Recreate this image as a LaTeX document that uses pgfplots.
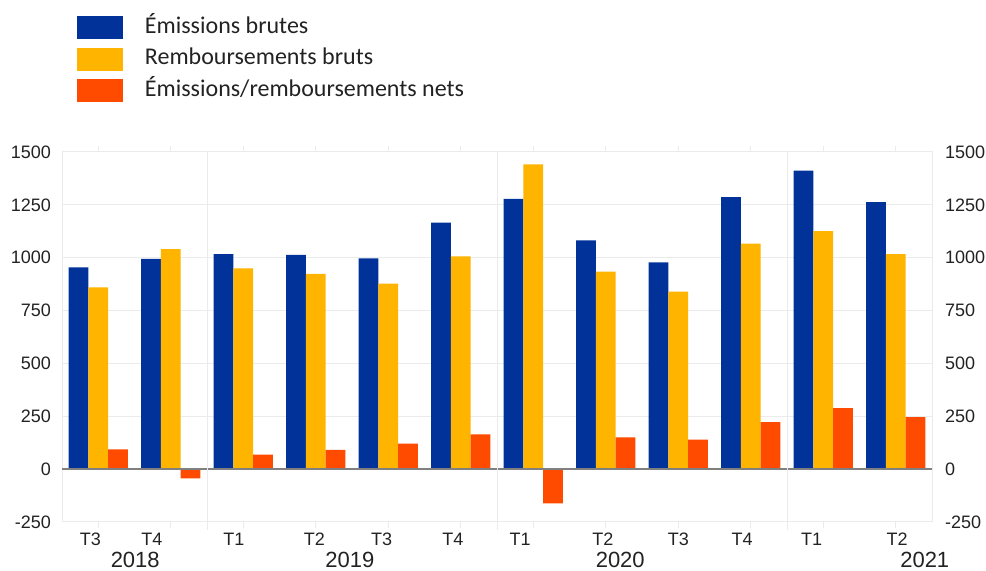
\documentclass[border=0pt]{standalone}
\usepackage{pgfplots}
\usepackage{pgfplotstable}
\pgfplotsset{compat=1.18}
\usepackage{fontspec}
\setmainfont{Liberation Sans}
\newfontfamily\carlito{Carlito}
\definecolor{ecbblue}{HTML}{003299}
\definecolor{ecbyellow}{HTML}{FFB400}
\definecolor{ecbred}{HTML}{FF4B00}
\definecolor{gridgray}{HTML}{EBEBEB}
\definecolor{zerogray}{HTML}{808080}
\definecolor{txt}{HTML}{222222}

\pgfplotstableread{
x em rb net
0 954 860 93
1 995 1041 -44
2 1017 950 69
3 1013 924 91
4 997 877 121
5 1166 1006 164
6 1278 1442 -162
7 1082 934 150
8 978 839 140
9 1287 1066 222
10 1412 1126 289
11 1263 1017 246
}\datatable

\begin{document}
\begin{tikzpicture}
\path[use as bounding box] (0,0) rectangle (493pt,285.5pt);
\begin{axis}[
  at={(31pt,24.5pt)}, anchor=south west,
  scale only axis, width=435pt, height=185pt,
  xmin=-0.5, xmax=11.5, ymin=-250, ymax=1500,
  ytick={-250,0,250,500,750,1000,1250,1500},
  /pgf/number format/assume math mode=true,
  /pgf/number format/1000 sep={},
  ybar=0pt, bar width=9.85pt,
  axis line style={gridgray, line width=0.5pt},
  ymajorgrids, grid style={gridgray, line width=0.5pt},
  xtick={0,...,11}, xticklabels={},
  tick align=outside, major tick length=3pt,
  xtick style={gridgray, line width=0.5pt},
  ytick style={draw=none},
  tick label style={font=\fontsize{9}{11}\selectfont, text=txt},
  yticklabel style={xshift=1pt},
  extra x ticks={-0.11,0.74,1.87,2.98,3.91,4.89,5.82,6.96,8.0,8.88,9.84,11.02},
  extra x tick labels={T3,T4,T1,T2,T3,T4,T1,T2,T3,T4,T1,T2},
  extra x tick style={major tick length=0pt, tick style={draw=none}, xticklabel style={yshift=-2pt}},
  clip=false,
  legend cell align=left,
  legend image code/.code={\fill[#1] (0pt,-3pt) rectangle (23pt,8.5pt);},
  legend style={at={(rel axis cs:0.0172,1.367)}, anchor=north west,
    draw=none, fill=none, inner sep=0pt, outer sep=0pt, row sep=4.25pt,
    font=\carlito\fontsize{12}{14}\selectfont, text=txt,
    nodes={inner sep=0pt, text height=8.5pt, text depth=2.5pt, anchor=base west},
    /tikz/every odd column/.append style={column sep=11pt}},
]
\addplot[fill=ecbblue, draw=none] table[x=x, y=em] {\datatable};
\addplot[fill=ecbyellow, draw=none] table[x=x, y=rb] {\datatable};
\addplot[fill=ecbred, draw=none] table[x=x, y=net] {\datatable};
\legend{Émissions brutes, Remboursements bruts, Émissions/remboursements nets}
\draw[zerogray, line width=0.7pt] (axis cs:-0.5,0) -- (axis cs:11.5,0);
\draw[gridgray, line width=0.5pt] (axis cs:1.5,1500) -- ([yshift=-4pt]axis cs:1.5,-250);
\draw[gridgray, line width=0.5pt] (axis cs:5.5,1500) -- ([yshift=-4pt]axis cs:5.5,-250);
\draw[gridgray, line width=0.5pt] (axis cs:9.5,1500) -- ([yshift=-4pt]axis cs:9.5,-250);
\node[font=\fontsize{11}{13}\selectfont, text=txt] at ([yshift=-19pt]axis cs:0.51,-250) {2018};
\node[font=\fontsize{11}{13}\selectfont, text=txt] at ([yshift=-19pt]axis cs:3.47,-250) {2019};
\node[font=\fontsize{11}{13}\selectfont, text=txt] at ([yshift=-19pt]axis cs:7.2,-250) {2020};
\node[font=\fontsize{11}{13}\selectfont, text=txt] at ([yshift=-19pt]axis cs:11.4,-250) {2021};
\end{axis}
\begin{axis}[
  at={(31pt,24.5pt)}, anchor=south west,
  scale only axis, width=435pt, height=185pt,
  xmin=-0.5, xmax=11.5, ymin=-250, ymax=1500,
  ytick={-250,0,250,500,750,1000,1250,1500},
  /pgf/number format/assume math mode=true,
  /pgf/number format/1000 sep={},
  axis x line=none, axis y line*=right,
  axis line style={gridgray, line width=0.5pt},
  ytick style={draw=none},
  tick label style={font=\fontsize{9}{11}\selectfont, text=txt},
  yticklabel style={xshift=3pt},
]
\addplot[draw=none] coordinates {(0,0)};
\end{axis}
\end{tikzpicture}
\end{document}
